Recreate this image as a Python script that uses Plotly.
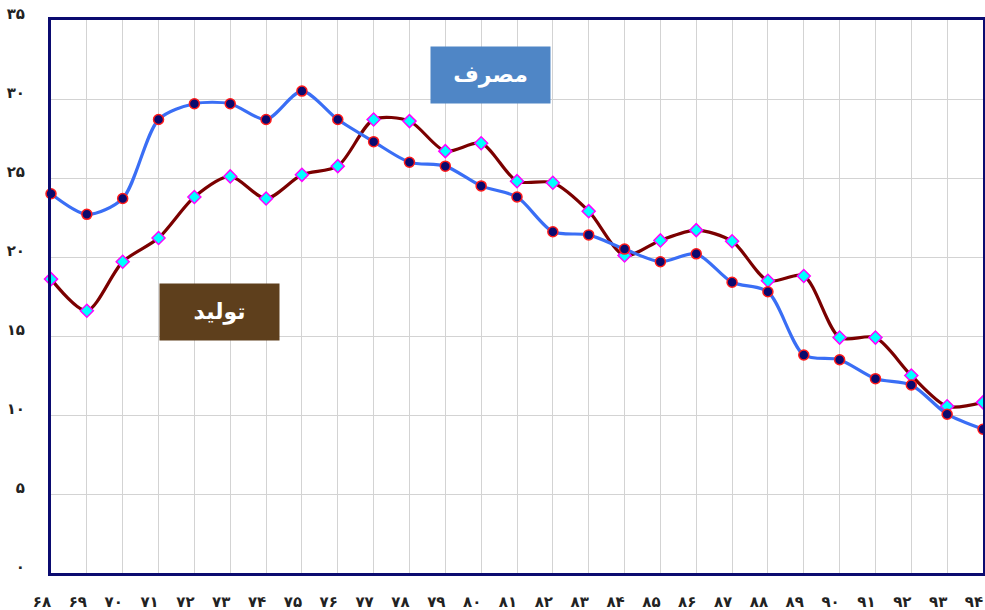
import plotly.graph_objects as go

years = list(range(68, 95))
year_labels = ["۶۸", "۶۹", "۷۰", "۷۱", "۷۲", "۷۳", "۷۴", "۷۵", "۷۶", "۷۷", "۷۸", "۷۹", "۸۰",
               "۸۱", "۸۲", "۸۳", "۸۴", "۸۵", "۸۶", "۸۷", "۸۸", "۸۹", "۹۰", "۹۱", "۹۲", "۹۳", "۹۴"]
consumption = [24.0, 22.7, 23.7, 28.7, 29.7, 29.7, 28.7, 30.5, 28.7, 27.3, 26.0, 25.75, 24.5,
               23.8, 21.6, 21.4, 20.5, 19.7, 20.2, 18.4, 17.8, 13.8, 13.5, 12.3, 11.9, 10.05, 9.1]
production = [18.6, 16.6, 19.7, 21.2, 23.8, 25.1, 23.7, 25.2, 25.75, 28.7, 28.6, 26.7, 27.2,
              24.8, 24.7, 22.9, 20.1, 21.05, 21.7, 21.0, 18.5, 18.8, 14.9, 14.9, 12.5, 10.55, 10.8]
y_ticks = [0, 5, 10, 15, 20, 25, 30, 35]
y_labels = ["۰", "۵", "۱۰", "۱۵", "۲۰", "۲۵", "۳۰", "۳۵"]
name_consumption = "مصرف"
name_production = "تولید"

fig = go.Figure()
fig.add_trace(go.Scatter(
    x=years, y=production, name=name_production, mode="lines+markers",
    line=dict(color="#7B0000", width=3.2, shape="spline", smoothing=0.8),
    marker=dict(symbol="diamond", size=10, color="#00FFFF", line=dict(color="#FF00FF", width=1.5)),
    cliponaxis=False,
))
fig.add_trace(go.Scatter(
    x=years, y=consumption, name=name_consumption, mode="lines+markers",
    line=dict(color="#3A6EF5", width=3.2, shape="spline", smoothing=0.8),
    marker=dict(symbol="circle", size=10, color="#0A0A6E", line=dict(color="#FF1A1A", width=1.5)),
    cliponaxis=False,
))

axis_font = dict(family="DejaVu Sans", size=15, color="#222222", weight="bold")
fig.update_xaxes(
    range=[68, 94], tickvals=years, ticktext=year_labels, tickfont=axis_font,
    showgrid=True, gridcolor="#D3D3D3", gridwidth=1, zeroline=False,
    showline=True, linecolor="#0B0B70", linewidth=3, mirror=True, ticks="",
    ticklabelstandoff=13, ticklabelshift=-9, ticklabeloverflow="allow", automargin=False,
)
fig.update_yaxes(
    range=[0, 35], tickvals=y_ticks, ticktext=y_labels, tickfont=axis_font,
    showgrid=True, gridcolor="#D3D3D3", gridwidth=1, zeroline=False,
    showline=True, linecolor="#0B0B70", linewidth=3, mirror=True, ticks="",
    ticklabelstandoff=20, ticklabelshift=-6, automargin=False,
)

fig.add_annotation(
    xref="paper", yref="paper", x=0.4716, y=0.901, xanchor="center", yanchor="middle",
    text="<b>" + name_consumption + "</b>",
    showarrow=False, bgcolor="#4F86C6", width=119, height=56,
    font=dict(family="DejaVu Sans", size=22, color="white"), borderpad=0,
)
fig.add_annotation(
    xref="paper", yref="paper", x=0.1808, y=0.4725, xanchor="center", yanchor="middle",
    text="<b>" + name_production + "</b>",
    showarrow=False, bgcolor="#5E3F1C", width=119, height=56,
    font=dict(family="DejaVu Sans", size=22, color="white"), borderpad=0,
)

fig.update_layout(
    width=985, height=610, showlegend=False,
    margin=dict(l=51, r=2, t=20, b=37),
    plot_bgcolor="white", paper_bgcolor="white",
)
fig.write_html(
    "out.html",
    config={"displayModeBar": False},
    post_script="document.body.style.margin='0';document.body.style.padding='0';document.body.style.overflow='hidden';",
)
